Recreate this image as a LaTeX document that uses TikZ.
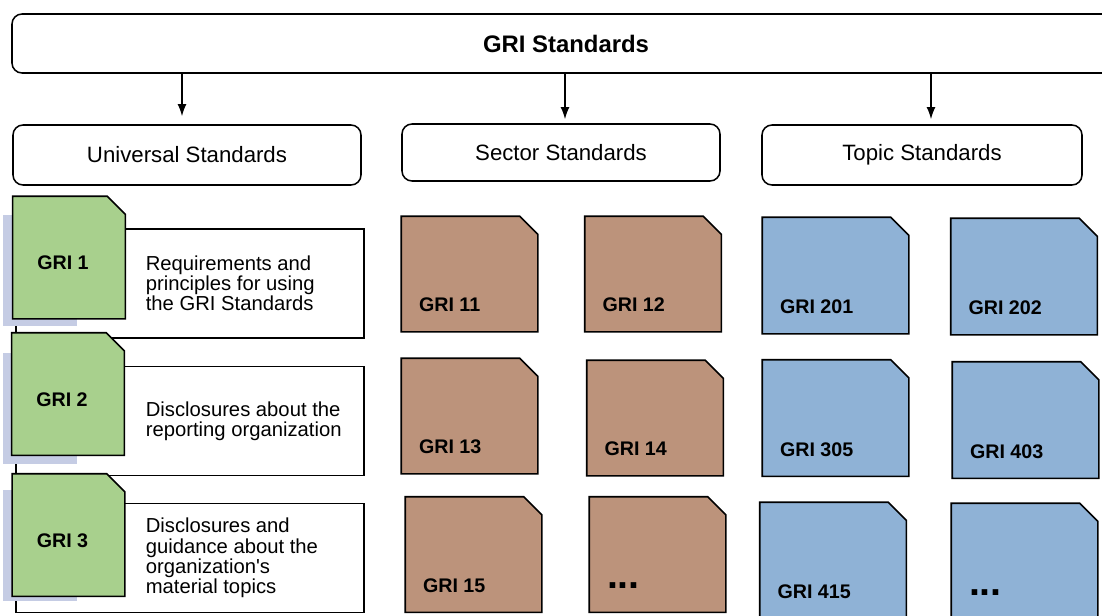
\documentclass[tikz,border=0pt]{standalone}
\usepackage{fontspec}
\setmainfont{Liberation Sans}
\usetikzlibrary{arrows.meta}

\definecolor{griGreen}{RGB}{168,208,141}
\definecolor{griBrown}{RGB}{188,147,123}
\definecolor{griBlue}{RGB}{143,178,214}
\definecolor{griShade}{RGB}{197,204,228}

\tikzset{
  docpath/.style={rectangle, inner sep=0pt, append after command={\pgfextra{
      \filldraw[fill=#1, line width=1.1pt, line join=miter]
        (\tikzlastnode.south west) -- (\tikzlastnode.north west)
        -- ([xshift=-4.5mm]\tikzlastnode.north east)
        -- ([yshift=-4.5mm]\tikzlastnode.north east)
        -- (\tikzlastnode.south east) -- cycle;}}}
}

\begin{document}
\begin{tikzpicture}[x=0.25mm, y=-0.25mm, >={Latex[length=3mm,width=2.2mm]}, line width=1.1pt]
        \tikzstyle{hbox} = [rectangle, draw=black, fill=white, rounded corners=2.5mm,
                            text centered, font=\fontsize{15.8}{18}\selectfont]
        \tikzstyle{udoc} = [docpath=griGreen, minimum width=27.75mm, minimum height=30.25mm]
        \tikzstyle{sdoc} = [docpath=griBrown, minimum width=33.75mm, minimum height=28.5mm]
        \tikzstyle{tdoc} = [docpath=griBlue, minimum width=36.25mm, minimum height=28.75mm]
        \tikzstyle{ulbl} = [inner sep=0pt, xshift=-1.5mm, yshift=-1.4mm,
                            font=\bfseries\fontsize{14}{16}\selectfont]
        \tikzstyle{lbl} = [anchor=west, inner sep=0pt, xshift=4.25mm, yshift=6.75mm,
                           font=\bfseries\fontsize{14}{16}\selectfont]
        \tikzstyle{dots} = [lbl, font=\bfseries\fontsize{28}{30}\selectfont]
        \tikzstyle{shade} = [rectangle, fill=griShade, minimum width=18.5mm, minimum height=27.75mm]
        \tikzstyle{desc} = [rectangle, draw=black, fill=white, minimum width=87mm, minimum height=27.25mm]
        \tikzstyle{txt} = [anchor=west, align=left, inner sep=0pt,
                           font=\fontsize{14.4}{14.4}\selectfont]

        \clip (0,0) rectangle (1102,615);

        % En-tetes
        \node[hbox, minimum width=277mm, minimum height=14.75mm,
              font=\bfseries\fontsize{17}{20}\selectfont] (gri) at (566,43.5) {GRI Standards};
        \node[hbox, minimum width=87mm, minimum height=15mm] (univ) at (187,155) {Universal Standards};
        \node[hbox, minimum width=79.5mm, minimum height=14.25mm] (sect) at (561,152.5) {Sector Standards};
        \node[hbox, minimum width=80mm, minimum height=15mm] (topic) at (922,155) {Topic Standards};

        % Fleches
        \coordinate (a1) at ([xshift=-1.25mm]univ.north);
        \coordinate (a2) at ([xshift=1mm]sect.north);
        \coordinate (a3) at ([xshift=2.25mm]topic.north);
        \draw[->, line width=1pt, shorten >=2mm] (a1 |- gri.south) -- (a1);
        \draw[->, line width=1pt, shorten >=1mm] (a2 |- gri.south) -- (a2);
        \draw[->, line width=1pt, shorten >=1.25mm] (a3 |- gri.south) -- (a3);

        % Universal Standards
        \node[desc] (desc1) at (190,283.5) {};
        \node[shade] (sh1) at (40,270.5) {};
        \node[udoc] (gri1) at (69,257.5) {};
        \node[ulbl] (l1) at (gri1) {GRI 1};
        \node[txt] (txt1) at (145,283.5) {Requirements and\\principles for using\\the GRI Standards};

        \node[desc] (desc2) at (190,421) {};
        \node[shade] (sh2) at (40,408.5) {};
        \node[udoc] (gri2) at (68,394) {};
        \node[ulbl] (l2) at (gri2) {GRI 2};
        \node[txt] (txt2) at (145,421) {Disclosures about the\\reporting organization};

        \node[desc] (desc3) at (190,558) {};
        \node[shade] (sh3) at (40,545) {};
        \node[udoc] (gri3) at (68.5,535) {};
        \node[ulbl] (l3) at (gri3) {GRI 3};
        \node[txt] (txt3) at (145,558) {Disclosures and\\guidance about the\\organization\textquotesingle s\\material topics};

        % Sector Standards
        \node[sdoc] (gri11) at (469.5,274) {};
        \node[sdoc] (gri12) at (653,274) {};
        \node[sdoc] (gri13) at (469.5,416) {};
        \node[sdoc] (gri14) at (655,418) {};
        \node[sdoc] (gri15) at (473.5,554.5) {};
        \node[sdoc] (sectmore) at (657.5,554.5) {};
        \node[lbl] (l11) at (gri11.south west) {GRI 11};
        \node[lbl] (l12) at (gri12.south west) {GRI 12};
        \node[lbl] (l13) at (gri13.south west) {GRI 13};
        \node[lbl] (l14) at (gri14.south west) {GRI 14};
        \node[lbl] (l15) at (gri15.south west) {GRI 15};
        \node[dots] (lsm) at (sectmore.south west) {...};

        % Topic Standards
        \node[tdoc] (gri201) at (835.5,275.5) {};
        \node[tdoc] (gri202) at (1024,276.5) {};
        \node[tdoc] (gri305) at (835.5,418) {};
        \node[tdoc] (gri403) at (1025.5,420) {};
        \node[tdoc] (gri415) at (833,560.5) {};
        \node[tdoc] (topicmore) at (1024.5,561.5) {};
        \node[lbl] (l201) at (gri201.south west) {GRI 201};
        \node[lbl] (l202) at (gri202.south west) {GRI 202};
        \node[lbl] (l305) at (gri305.south west) {GRI 305};
        \node[lbl] (l403) at (gri403.south west) {GRI 403};
        \node[lbl] (l415) at (gri415.south west) {GRI 415};
        \node[dots] (ltm) at (topicmore.south west) {...};
\end{tikzpicture}
\end{document}
